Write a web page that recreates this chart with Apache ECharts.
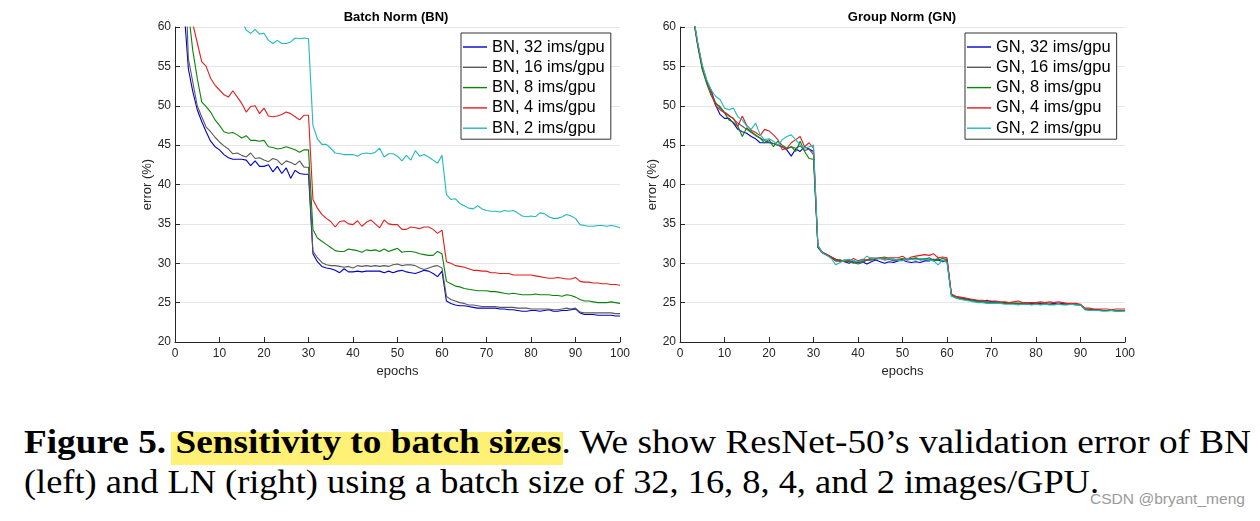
<!DOCTYPE html>
<html>
<head>
<meta charset="utf-8">
<script src="https://cdn.jsdelivr.net/npm/echarts@6/dist/echarts.min.js"></script>
<style>
  html, body { margin: 0; padding: 0; background: #fff; }
  #wrap { position: relative; width: 1260px; height: 521px; overflow: hidden; background: #fff; }
  #chart { position: absolute; left: 0; top: 0; width: 1260px; height: 400px; }
  .cap { position: absolute; left: 24px; white-space: nowrap; font-family: 'Liberation Serif', serif; font-size: 33px; line-height: 33px; color: #000; transform-origin: 0 0; }
  #hl { position: absolute; background: #fff176; }
  #wm { position: absolute; left: 1090px; top: 491px; font-family: 'Liberation Sans', sans-serif; font-size: 14px; color: #9a9a9a; white-space: nowrap; transform-origin: 0 0; }
</style>
</head>
<body>
<div id="wrap">
  <div id="hl"></div>
  <div id="chart"></div>
  <div class="cap" id="cap1" style="top:426px"><b>Figure 5.</b> <b id="hlText">Sensitivity to batch sizes</b>. We show ResNet-50’s validation error of BN</div>
  <div class="cap" id="cap2" style="top:466px">(left) and LN (right) using a batch size of 32, 16, 8, 4, and 2 images/GPU.</div>
  <div id="wm">CSDN @bryant_meng</div>
</div>
<script>
// ---- data (epochs 1..100) ----
const epochs = Array.from({length: 100}, (_, i) => i + 1);
const xTicks = [0, 10, 20, 30, 40, 50, 60, 70, 80, 90, 100];
const yTicks = [20, 25, 30, 35, 40, 45, 50, 55, 60];

const bnNames = ['BN, 32 ims/gpu', 'BN, 16 ims/gpu', 'BN, 8 ims/gpu', 'BN, 4 ims/gpu', 'BN, 2 ims/gpu'];
const gnNames = ['GN, 32 ims/gpu', 'GN, 16 ims/gpu', 'GN, 8 ims/gpu', 'GN, 4 ims/gpu', 'GN, 2 ims/gpu'];

const bn32 = [
  75, 62.5, 54.7, 51.8, 49.5, 48, 46.7, 45.5, 44.8, 44.4,
  43.8, 43.4, 43.2, 43.2, 43.2, 43.1, 42.4, 43.0, 42.3, 42.3,
  42.5, 41.6, 42.3, 41.4, 42.1, 40.8, 41.8, 41.4, 41.3, 41.3,
  31.2, 30.2, 29.6, 29.4, 29.3, 29.1, 28.8, 29.3, 28.9, 28.9,
  29.0, 28.9, 29.0, 29.0, 29.0, 29.0, 28.8, 29.0, 28.8, 29.0,
  29.1, 28.9, 28.8, 28.7, 28.9, 29.1, 29.0, 28.7, 28.3, 29.0,
  25.2, 24.9, 24.7, 24.6, 24.6, 24.5, 24.4, 24.3, 24.3, 24.3,
  24.3, 24.3, 24.2, 24.2, 24.1, 24.1, 24.0, 23.9, 23.9, 24.0,
  24.0, 23.9, 24.0, 24.1, 23.9, 23.9, 24.0, 24.0, 24.1, 24.2,
  23.7, 23.5, 23.5, 23.5, 23.4, 23.4, 23.4, 23.4, 23.3, 23.3
];
const bn16 = [
  85, 72, 56, 53, 50, 48.6, 47.3, 46.7, 46, 45.4,
  44.9, 44.5, 43.9, 44.0, 43.7, 43.5, 44.0, 43.3, 43.4, 43.1,
  42.9, 43.3, 43.1, 42.5, 43.0, 42.8, 42.5, 43.0, 42.2, 42.2,
  31.5, 30.7, 30.1, 29.8, 29.7, 29.7, 29.6, 29.5, 29.6, 29.4,
  29.7, 29.6, 29.7, 29.6, 29.7, 29.6, 29.7, 29.6, 29.8, 29.9,
  29.7, 29.8, 29.8, 29.7, 29.4, 29.2, 29.4, 29.6, 29.7, 29.4,
  25.8, 25.4, 25.2, 25.0, 24.9, 24.7, 24.7, 24.6, 24.5, 24.5,
  24.5, 24.5, 24.4, 24.4, 24.4, 24.4, 24.3, 24.3, 24.3, 24.2,
  24.2, 24.2, 24.2, 24.2, 24.1, 24.1, 24.2, 24.3, 24.2, 24.3,
  23.8, 23.7, 23.7, 23.7, 23.7, 23.7, 23.7, 23.7, 23.6, 23.6
];
const bn8 = [
  80, 72, 62, 57, 53.5, 50.5, 49.9, 49.2, 48.2, 47.5,
  46.7, 46.5, 46.6, 46.3, 45.9, 46.2, 45.6, 45.6, 45.5, 45.6,
  44.8, 44.7, 44.5, 44.6, 44.8, 44.6, 44.4, 44.1, 44.4, 44.4,
  34.3, 33.2, 32.8, 32.4, 32.0, 31.6, 31.5, 31.5, 31.8, 31.7,
  31.6, 31.4, 31.7, 31.6, 31.7, 31.5, 31.8, 31.5, 31.7, 31.9,
  31.4, 31.5, 31.5, 31.4, 31.2, 31.1, 31.0, 31.0, 31.5, 31.2,
  27.7, 27.4, 27.1, 27.0, 26.8, 26.7, 26.6, 26.5, 26.5, 26.5,
  26.4, 26.4, 26.3, 26.2, 26.1, 26.2, 26.1, 26.0, 26.0, 26.0,
  26.1, 26.0, 26.0, 26.0, 25.9, 25.9, 25.8, 26.0, 25.9, 25.7,
  25.4, 25.2, 25.2, 25.1, 25.0, 25.0, 25.0, 25.1, 25.0, 24.9
];
const bn4 = [
  85, 76, 66, 60.4, 58, 55.6, 55, 53.5, 52.6, 52,
  51.4, 51.1, 51.9, 51.1, 50.3, 49.2, 49.9, 50.0, 49.0, 49.7,
  48.7, 48.6, 48.7, 48.9, 49.2, 49.0, 48.6, 48.2, 48.8, 48.8,
  38.1, 37.0, 36.2, 35.7, 35.3, 34.6, 35.3, 35.4, 35.0, 34.9,
  35.4, 34.7, 35.2, 35.5, 35.0, 34.5, 35.5, 35.0, 34.9, 34.9,
  34.3, 34.3, 34.6, 34.5, 34.4, 34.6, 34.6, 34.3, 33.8, 34.2,
  30.2, 30.0, 29.7, 29.6, 29.5, 29.3, 29.1, 29.1, 29.0, 29.0,
  28.8, 28.8, 28.7, 28.7, 28.7, 28.5, 28.5, 28.5, 28.5, 28.5,
  28.4, 28.3, 28.2, 28.1, 28.1, 28.2, 28.1, 28.0, 28.0, 28.2,
  27.7, 27.6, 27.6, 27.5, 27.5, 27.4, 27.4, 27.3, 27.3, 27.2
];
const bn2 = [
  99, 92, 86, 81, 77, 74, 71, 69, 67, 65.5,
  64.2, 63.2, 62.3, 61.5, 60.8, 59.6, 59.2, 59.7, 59.1, 59.2,
  58.3, 57.9, 58.3, 57.9, 57.9, 58.1, 58.6, 58.5, 58.6, 58.5,
  47.5, 45.8, 45.1, 45.1, 44.6, 44.0, 43.9, 43.8, 43.8, 43.8,
  43.6, 43.9, 44.0, 43.9, 44.1, 44.6, 43.5, 43.9, 43.9, 43.6,
  43.0, 43.7, 43.1, 44.3, 43.6, 43.8, 43.5, 43.1, 42.7, 43.7,
  38.7, 38.1, 38.2, 37.6, 37.3, 37.0, 36.9, 37.3, 36.9, 36.7,
  36.6, 36.6, 36.5, 36.7, 36.6, 36.7, 36.4, 36.0, 35.9, 36.0,
  35.9, 36.4, 36.3, 35.9, 35.7, 35.7, 35.9, 36.2, 36.0, 35.7,
  34.9, 34.8, 34.7, 34.7, 34.8, 34.8, 34.7, 34.8, 34.7, 34.5
];

const gn32 = [
  80, 68, 61.2, 57.8, 54.8, 53.0, 52.0, 50.1, 48.9, 48.4,
  48.4, 47.8, 47.0, 46.7, 46.5, 46.1, 45.8, 45.3, 45.3, 45.3,
  45.2, 45.0, 44.8, 44.4, 43.6, 44.5, 44.2, 44.8, 44.5, 44.2,
  32.0, 31.3, 31.0, 30.7, 30.3, 30.4, 30.2, 30.0, 30.3, 30.1,
  30.2, 29.9, 30.2, 30.4, 30.2, 30.0, 30.2, 30.1, 30.3, 30.4,
  30.2, 30.1, 30.2, 30.1, 30.3, 30.3, 30.5, 30.4, 30.2, 30.3,
  25.9, 25.7, 25.6, 25.5, 25.4, 25.3, 25.2, 25.2, 25.3, 25.1,
  25.1, 25.0, 25.0, 25.0, 24.9, 24.9, 24.9, 24.8, 24.9, 24.9,
  24.9, 24.8, 24.8, 24.9, 24.8, 24.9, 24.8, 24.8, 24.8, 24.7,
  24.2, 24.1, 24.1, 24.1, 24.0, 24.0, 24.0, 24.0, 24.0, 24.0
];
const gn16 = [
  80, 68, 61.2, 57.7, 54.9, 53.1, 51.7, 50.4, 49.7, 49.2,
  48.8, 48.3, 47.8, 47.4, 47.0, 46.6, 46.2, 45.9, 45.6, 45.4,
  45.2, 45.0, 44.8, 44.5, 44.8, 44.6, 44.9, 44.3, 44.5, 43.8,
  32.1, 31.4, 31.1, 30.8, 30.3, 30.3, 30.4, 30.2, 30.0, 30.2,
  30.3, 30.4, 30.4, 30.5, 30.6, 30.4, 30.5, 30.3, 30.5, 30.6,
  30.4, 30.5, 30.6, 30.4, 30.5, 30.7, 30.4, 30.6, 30.3, 30.5,
  25.9, 25.7, 25.6, 25.4, 25.3, 25.2, 25.2, 25.1, 25.1, 25.0,
  25.0, 25.0, 24.9, 24.9, 24.9, 24.9, 24.8, 24.9, 24.8, 24.9,
  24.8, 24.9, 24.8, 24.8, 24.8, 24.8, 24.8, 24.8, 24.8, 24.7,
  24.2, 24.1, 24.1, 24.1, 24.0, 24.0, 24.0, 24.0, 24.0, 24.0
];
const gn8 = [
  80, 68, 61.0, 57.5, 54.6, 52.8, 51.3, 50.3, 49.9, 49.1,
  48.2, 47.9, 47.4, 46.1, 47.2, 46.7, 46.3, 45.9, 45.3, 45.7,
  44.8, 45.5, 45.0, 44.6, 44.8, 44.2, 45.5, 44.2, 43.3, 43.2,
  32.0, 31.3, 31.1, 30.8, 30.5, 30.4, 30.2, 30.3, 30.1, 29.9,
  30.1, 30.4, 30.5, 30.6, 30.7, 30.8, 30.6, 30.5, 30.4, 30.5,
  30.6, 30.6, 30.7, 30.5, 30.6, 30.5, 30.3, 30.4, 30.6, 30.5,
  25.9, 25.6, 25.5, 25.4, 25.3, 25.2, 25.1, 25.1, 25.0, 25.0,
  25.0, 24.9, 24.9, 24.9, 24.9, 24.8, 24.9, 24.8, 24.8, 24.8,
  24.8, 24.8, 24.8, 24.8, 24.8, 24.8, 24.8, 24.8, 24.7, 24.7,
  24.1, 24.1, 24.0, 24.0, 24.0, 24.0, 24.0, 23.9, 23.9, 24.0
];
const gn4 = [
  80, 68, 61.3, 57.9, 55.1, 53.2, 51.6, 50.0, 49.5, 49.1,
  48.7, 48.4, 47.4, 48.7, 47.5, 46.9, 46.6, 46.2, 47.0, 46.8,
  46.3, 45.7, 44.4, 44.6, 45.3, 45.7, 46.1, 44.8, 45.3, 44.6,
  32.2, 31.4, 31.1, 30.8, 30.5, 30.2, 30.4, 30.3, 30.6, 30.3,
  30.5, 30.4, 30.7, 30.6, 30.7, 30.6, 30.7, 30.7, 30.7, 30.9,
  30.5, 30.8, 30.9, 31.0, 31.1, 31.0, 31.2, 30.7, 30.8, 30.7,
  26.1, 25.8, 25.7, 25.6, 25.5, 25.4, 25.3, 25.3, 25.2, 25.2,
  25.2, 25.1, 25.1, 25.0, 25.1, 25.2, 25.0, 25.0, 25.0, 25.0,
  25.1, 25.0, 25.1, 25.0, 25.1, 25.0, 24.9, 24.9, 24.9, 24.8,
  24.3, 24.3, 24.2, 24.2, 24.2, 24.2, 24.1, 24.2, 24.2, 24.2
];
const gn2 = [
  80, 68, 61.5, 58.0, 55.2, 53.3, 52.0, 51.2, 50.8, 49.7,
  49.5, 49.7, 48.6, 48.2, 47.4, 47.0, 47.8, 46.3, 45.7, 45.8,
  45.5, 45.0, 45.7, 46.1, 46.3, 45.7, 45.0, 44.6, 44.8, 45.0,
  32.3, 31.3, 31.0, 30.6, 29.8, 30.1, 30.4, 30.5, 30.3, 30.2,
  30.4, 30.9, 30.6, 30.7, 30.6, 30.4, 30.6, 30.5, 30.4, 30.3,
  30.6, 30.5, 30.4, 30.6, 30.5, 30.4, 30.3, 29.8, 30.4, 30.1,
  25.8, 25.6, 25.4, 25.3, 25.2, 25.1, 25.0, 25.0, 24.9, 24.9,
  24.9, 24.9, 24.8, 24.8, 24.8, 24.7, 24.8, 24.8, 24.7, 24.8,
  24.7, 24.8, 24.7, 24.7, 24.8, 24.7, 24.7, 24.8, 24.7, 24.7,
  24.1, 24.0, 24.0, 24.0, 23.9, 23.9, 24.0, 23.9, 23.9, 23.9
];

const colors = ['#0000cc', '#595959', '#0b840b', '#e11d1d', '#22b8be'];
const bnValues = [bn32, bn16, bn8, bn4, bn2];
const gnValues = [gn32, gn16, gn8, gn4, gn2];

// ---- chart ----
const FONT = "'Liberation Sans', Arial, Helvetica, sans-serif";
const AXIS_COLOR = '#262626';

function xAxisFor(idx) {
  return {
    type: 'value', gridIndex: idx, min: xTicks[0], max: xTicks[xTicks.length - 1], interval: 10,
    name: 'epochs', nameLocation: 'middle', nameGap: 23,
    nameTextStyle: { fontFamily: FONT, fontSize: 13, color: AXIS_COLOR },
    axisLine: { show: true, lineStyle: { color: AXIS_COLOR, width: 1 } },
    axisTick: { show: true, inside: true, length: 5, lineStyle: { color: AXIS_COLOR } },
    axisLabel: { fontFamily: FONT, fontSize: 12, color: AXIS_COLOR, margin: 6 },
    splitLine: { show: false }
  };
}
function yAxisFor(idx) {
  return {
    type: 'value', gridIndex: idx, min: yTicks[0], max: yTicks[yTicks.length - 1], interval: 5,
    name: 'error (%)', nameLocation: 'middle', nameGap: 20,
    nameTextStyle: { fontFamily: FONT, fontSize: 13, color: AXIS_COLOR },
    axisLine: { show: true, lineStyle: { color: AXIS_COLOR, width: 1 } },
    axisTick: { show: true, inside: true, length: 5, lineStyle: { color: AXIS_COLOR } },
    axisLabel: { fontFamily: FONT, fontSize: 12, color: AXIS_COLOR, margin: 4 },
    splitLine: { show: true, lineStyle: { color: '#e6e6e6', width: 1 } }
  };
}
function legendFor(names, left) {
  return {
    data: names, orient: 'vertical', left: left, top: 33,
    backgroundColor: '#ffffff', borderColor: '#333333', borderWidth: 1,
    padding: [4, 6, 1, 2], itemWidth: 24, itemHeight: 1.4, itemGap: 0.3,
    icon: 'rect',
    selectedMode: false,
    textStyle: { fontFamily: FONT, fontSize: 16.5, color: '#000', lineHeight: 20 }
  };
}
function seriesFor(names, values, idx) {
  return names.map((n, k) => ({
    name: n, type: 'line', xAxisIndex: idx, yAxisIndex: idx,
    data: epochs.map((e, i) => [e, values[k][i]]),
    symbol: 'none', showSymbol: false, clip: true,
    lineStyle: { color: colors[k], width: 1.1 },
    itemStyle: { color: colors[k] },
    emphasis: { disabled: true }
  }));
}

const chart = echarts.init(document.getElementById('chart'), null, { renderer: 'canvas' });
chart.setOption({
  animation: false,
  backgroundColor: 'transparent',
  grid: [
    { left: 175, top: 27, width: 445, height: 315 },
    { left: 680, top: 27, width: 445, height: 315 }
  ],
  xAxis: [xAxisFor(0), xAxisFor(1)],
  yAxis: [yAxisFor(0), yAxisFor(1)],
  legend: [legendFor(bnNames, 461), legendFor(gnNames, 965)],
  graphic: [
    { type: 'text', x: 396, y: 17, style: { text: 'Batch Norm (BN)', align: 'center', verticalAlign: 'middle', font: "bold 13px 'Liberation Sans', Arial, sans-serif", fill: '#000' } },
    { type: 'text', x: 902, y: 17, style: { text: 'Group Norm (GN)', align: 'center', verticalAlign: 'middle', font: "bold 13px 'Liberation Sans', Arial, sans-serif", fill: '#000' } }
  ],
  series: seriesFor(bnNames, bnValues, 0).concat(seriesFor(gnNames, gnValues, 1))
});

// ---- caption fitting ----
function fit(id, target) {
  const el = document.getElementById(id);
  el.style.display = 'inline-block';
  const w = el.getBoundingClientRect().width;
  el.style.transform = 'scaleX(' + (target / w) + ')';
}
fit('cap1', 1227);
fit('cap2', 1075);
fit('wm', 155);
const r = document.getElementById('hlText').getBoundingClientRect();
const hl = document.getElementById('hl');
hl.style.left = (r.left - 4) + 'px';
hl.style.width = (r.width + 6) + 'px';
hl.style.top = '432px';
hl.style.height = '33px';
</script>
</body>
</html>
